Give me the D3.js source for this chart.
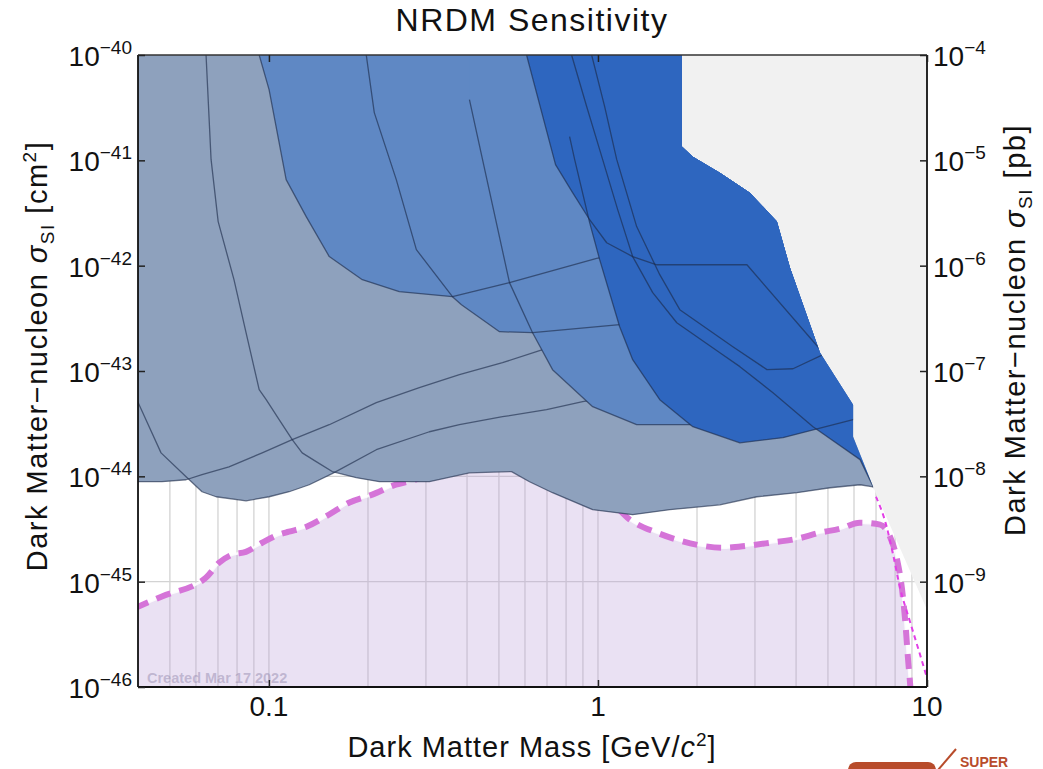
<!DOCTYPE html>
<html><head><meta charset="utf-8">
<script src="https://cdn.jsdelivr.net/npm/d3@7"></script>
<style>
body{margin:0;background:#fff;}
text{font-family:"Liberation Sans",Arial,Helvetica,sans-serif;fill:#111;}
</style>
</head><body>
<svg id="chart" width="1043" height="769"></svg>
<script>
// ---------------- data ----------------
const massDomain = [0.04, 10];
const sigmaDomain = [1e-46, 1e-40];
const massTicks = [0.1, 1, 10];
const massTickLabels = ["0.1", "1", "10"];
const sigmaTicks = [1e-40, 1e-41, 1e-42, 1e-43, 1e-44, 1e-45, 1e-46];
const sigmaExponents = ["−40", "−41", "−42", "−43", "−44", "−45", "−46"];
const pbTicks = [1e-40, 1e-41, 1e-42, 1e-43, 1e-44, 1e-45];
const pbExponents = ["−4", "−5", "−6", "−7", "−8", "−9"];
const gridMasses = [0.04,0.05,0.06,0.07,0.08,0.09,0.1,0.2,0.3,0.4,0.5,0.6,0.7,0.8,0.9,1,2,3,4,5,6,7,8,9,10];

// right edge of the combined exclusion envelope (top -> tip)
const envelopeRightEdge = [[1.798,1e-40],[1.798,1.35e-41],[1.942,1.08e-41],[2.347,7.64e-42],[2.896,4.93e-42],
  [3.499,2.62e-42],[3.834,9.57e-43],[4.731,1.49e-43],[5.962,4.79e-44],[5.962,2.38e-44],[6.859,7.96e-45]];
// projected sensitivity edge below the tip
const sensitivityEdge = [[6.859,7.96e-45],[10,5.42e-46]];

// grey-blue exclusion regions (lower boundaries)
const lowMassEdge = [[0.039,8.89e-45],[0.0473,8.89e-45],[0.056,9.28e-45],[0.0626,1.04e-44],[0.0756,1.23e-44],
  [0.0954,1.67e-44],[0.1177,2.23e-44],[0.1525,3.09e-44],[0.212,5.0e-44],[0.2865,6.94e-44],[0.3793,9.22e-44],
  [0.5128,1.2e-43],[0.6645,1.56e-43],[0.792,1.86e-43]];
const uCurveEdge = [[0.039,6.0e-44],[0.047,1.67e-44],[0.056,9.91e-45],[0.0626,7.14e-45],[0.0691,6.4e-45],
  [0.0852,5.86e-45],[0.1001,6.4e-45],[0.1152,7.14e-45],[0.1326,8.32e-45],[0.1557,1.06e-44],[0.212,1.79e-44],
  [0.3074,2.65e-44],[0.3793,3.09e-44],[0.5128,3.68e-44],[0.6979,4.29e-44],[0.8984,5.11e-44],[1.164,5.9e-44]];
const cresstEdge = [[0.0644,1e-40],[0.0667,1.02e-41],[0.0701,2.62e-42],[0.0783,7.36e-43],[0.0852,2.31e-43],
  [0.0934,6.65e-44],[0.0981,5.34e-44],[0.1074,3.45e-44],[0.1177,2.23e-44],[0.1262,1.67e-44],[0.1392,1.38e-44],
  [0.1557,1.11e-44],[0.1842,9.7e-45],[0.2166,8.89e-45],[0.3074,8.89e-45],[0.4068,1.08e-44],[0.5461,1.11e-44],
  [0.6195,8.89e-45],[0.7277,6.99e-45],[0.9636,4.82e-45],[1.275,4.32e-45],[1.653,4.82e-45],[2.347,5.37e-45],
  [3.042,6.4e-45],[4.025,6.99e-45],[5.074,7.79e-45],[6.261,8.32e-45],[6.859,7.96e-45]];

// medium-blue exclusion regions
const mediumEdgeA = [[0.0934,1e-40],[0.1001,4.69e-41],[0.1128,6.56e-42],[0.1298,2.92e-42],[0.1525,1.22e-42],
  [0.1922,7.36e-43],[0.249,5.66e-43],[0.3612,5.08e-43],[0.5384,6.9e-43],[0.9909,1.17e-42],[1.339,1.42e-42]];
const mediumEdgeB = [[0.1976,1e-40],[0.209,2.84e-41],[0.2438,6.56e-42],[0.2806,1.42e-42],[0.3074,9.78e-43],
  [0.3612,5.08e-43],[0.3847,4.26e-43],[0.5021,2.36e-43],[0.6327,2.31e-43],[1.164,2.75e-43],[1.437,2.94e-43]];
const mediumEdgeC = [[0.4068,3.77e-41],[0.4457,1.02e-41],[0.5384,6.9e-43],[0.6327,2.31e-43],[0.7277,1.03e-43],
  [0.9636,4.58e-44],[1.311,3.09e-44],[1.836,3.09e-44],[2.188,3.09e-44]];

// strong-blue exclusion regions
const strongEdgeA = [[0.6067,1e-40],[0.7431,9.1e-42],[0.8374,4.93e-42],[0.9434,2.73e-42],[1.063,1.65e-42],
  [1.275,1.22e-42],[1.509,1.02e-42],[2.836,1.02e-42],[4.831,1.49e-43],[5.837,7.41e-44]];
const strongEdgeB = [[0.8199,1.68e-41],[0.8493,1.02e-41],[0.9434,2.56e-42],[1.012,1.14e-42],[1.164,2.63e-43],
  [1.275,1.28e-43],[1.541,5.34e-44],[1.942,2.96e-44],[2.7,2.08e-44],[3.65,2.33e-44],[5.962,3.45e-44],[7.204,4.02e-44]];
const strongEdgeC = [[0.8315,1e-40],[0.9239,3.24e-41],[1.033,1.02e-41],[1.148,3.4e-42],[1.275,1.22e-42],
  [1.467,5.54e-43],[1.736,2.87e-43],[2.347,1.49e-43],[2.7,1.1e-43],[3.403,6.22e-44],[4.504,2.96e-44],
  [6.261,1.44e-44],[6.859,7.96e-45],[7.727,3.87e-45]];
const strongEdgeD = [[0.9568,1e-40],[1.048,3.24e-41],[1.14,1.02e-41],[1.311,2.35e-42],[1.541,8.21e-43],
  [1.773,3.82e-43],[2.57,1.7e-43],[3.263,1.03e-43],[3.914,1.05e-43],[4.831,1.43e-43],[5.837,1.98e-43]];

// neutrino fog boundary (thick dashed) and the dotted curve
const fogMass = [0.039,0.0473,0.0643,0.0705,0.0771,0.0851,0.0953,0.107,0.115,0.130,0.152,0.175,0.206,0.243,0.272,
  0.3074,0.4068,0.5461,0.6195,0.7277,0.9636,1.124,1.249,1.51,1.74,2.08,2.39,2.83,3.33,4.02,4.73,5.44,6.25,7.20,7.72,
  8.11,8.40,8.58,8.76,8.88,8.95];
const fogSigma = [5.6e-46,7.23e-46,1.09e-45,1.51e-45,1.80e-45,1.92e-45,2.34e-45,2.79e-45,2.98e-45,3.32e-45,4.32e-45,
  5.62e-45,6.70e-45,8.34e-45,9.10e-45,1.04e-44,1.25e-44,1.28e-44,1.08e-44,8.3e-45,5.75e-45,5.14e-45,3.88e-45,
  2.92e-45,2.50e-45,2.19e-45,2.10e-45,2.19e-45,2.34e-45,2.55e-45,2.92e-45,3.18e-45,3.63e-45,3.48e-45,2.67e-45,
  1.62e-45,8.4e-46,4.36e-46,1.82e-46,1.10e-46,8e-47];
const dottedMass = [7.0,7.51,7.89,8.28,8.88,9.53,10,10.3];
const dottedSigma = [6.4e-45,3.48e-45,1.8e-45,8.75e-46,4.16e-46,2.02e-46,1.22e-46,9e-47];

// ---------------- drawing ----------------
const L = 138, R = 927, T = 55, B = 687;
const svg = d3.select("#chart");
const x = d3.scaleLog().domain(massDomain).range([L, R]);
const y = d3.scaleLog().domain(sigmaDomain).range([B, T]);
const line = d3.line().x(d => x(d[0])).y(d => y(d[1]));
const smooth = d3.line().x(d => x(d[0])).y(d => y(d[1])).curve(d3.curveMonotoneX);

const FAR_HI = 1e-30, FAR_LO = 1e-50, FAR_L = 0.001, FAR_R = 1000;
const defs = svg.append("defs");
defs.append("clipPath").attr("id", "plotClip").append("rect")
  .attr("x", L).attr("y", T).attr("width", R - L).attr("height", B - T);
const envPts = [[FAR_L, FAR_HI], [envelopeRightEdge[0][0], FAR_HI]].concat(envelopeRightEdge)
  .concat([[envelopeRightEdge[envelopeRightEdge.length - 1][0], FAR_LO], [FAR_L, FAR_LO]]);
defs.append("clipPath").attr("id", "envClip").append("path").attr("d", line(envPts) + "Z");
const whitePts = [[FAR_L, FAR_LO], [FAR_L, FAR_HI], [envelopeRightEdge[0][0], FAR_HI]].concat(envelopeRightEdge)
  .concat(sensitivityEdge.slice(1)).concat([[FAR_R, sensitivityEdge[1][1]], [FAR_R, FAR_LO]]);
defs.append("clipPath").attr("id", "whiteClip").append("path").attr("d", line(whitePts) + "Z");

const plot = svg.append("g").attr("clip-path", "url(#plotClip)");
plot.append("rect").attr("x", L).attr("y", T).attr("width", R - L).attr("height", B - T).attr("fill", "#f1f1f1");
plot.append("path").attr("d", line(whitePts) + "Z").attr("fill", "#ffffff");

// grid lines (only visible in the sensitivity region)
const grid = plot.append("g").attr("clip-path", "url(#whiteClip)");
grid.selectAll("line.v").data(gridMasses).join("line")
  .attr("x1", d => x(d)).attr("x2", d => x(d)).attr("y1", T).attr("y2", B)
  .attr("stroke", "#d3d3d3").attr("stroke-width", 1.3);
grid.selectAll("line.h").data(sigmaTicks).join("line")
  .attr("x1", L).attr("x2", R).attr("y1", d => y(d)).attr("y2", d => y(d))
  .attr("stroke", "#d3d3d3").attr("stroke-width", 1.3);

// neutrino fog
const fogPts = fogMass.map((m, i) => [m, fogSigma[i]]);
const fogG = plot.append("g").attr("clip-path", "url(#whiteClip)");
fogG.append("path").attr("d", smooth(fogPts) + "L" + x(fogMass[fogMass.length-1]) + "," + (B + 50) + "L" + x(fogMass[0]) + "," + (B + 50) + "Z")
  .attr("fill", "rgba(185,155,215,0.30)");
fogG.append("path").attr("d", smooth(fogPts)).attr("fill", "none")
  .attr("stroke", "rgba(255,255,255,0.85)").attr("stroke-width", 2.5);
fogG.append("path").attr("d", smooth(fogPts)).attr("fill", "none")
  .attr("stroke", "#d574d8").attr("stroke-width", 6).attr("stroke-dasharray", "15,9");
const dottedPts = dottedMass.map((m, i) => [m, dottedSigma[i]]);
fogG.append("path").attr("d", smooth(dottedPts)).attr("fill", "none")
  .attr("stroke", "#e23fe6").attr("stroke-width", 2).attr("stroke-dasharray", "5,4");

// watermark
plot.append("text").attr("x", 147).attr("y", 683).text("Created Mar 17 2022")
  .style("font-size", "14.5px").style("font-weight", "bold").style("fill", "rgba(150,140,175,0.5)");

// exclusion regions
const regionFill = pts => line(pts.concat([[FAR_R, FAR_HI], [pts[0][0], FAR_HI]])) + "Z";
const edgeStroke = "rgba(28,42,72,0.62)";
function drawGroup(regions, color) {
  const g = plot.append("g").attr("clip-path", "url(#envClip)");
  g.selectAll("path.fill").data(regions).join("path").attr("class", "fill")
    .attr("d", regionFill).attr("fill", color).attr("stroke", "none");
  g.selectAll("path.edge").data(regions).join("path").attr("class", "edge")
    .attr("d", d => line(d)).attr("fill", "none").attr("stroke", edgeStroke)
    .attr("stroke-width", 1.3).attr("stroke-linejoin", "round");
}
drawGroup([lowMassEdge, uCurveEdge, cresstEdge], "#8ea1bd");
drawGroup([mediumEdgeA, mediumEdgeB, mediumEdgeC], "#5f88c4");
drawGroup([strongEdgeA, strongEdgeB, strongEdgeC, strongEdgeD], "#2e66bf");

// frame
svg.append("line").attr("x1", L).attr("x2", R).attr("y1", T).attr("y2", T).attr("stroke", "#333").attr("stroke-width", 1.5);
svg.append("line").attr("x1", L).attr("x2", R).attr("y1", B).attr("y2", B).attr("stroke", "#111").attr("stroke-width", 1.8);
svg.append("line").attr("x1", L).attr("x2", L).attr("y1", T).attr("y2", B).attr("stroke", "#111").attr("stroke-width", 1.8);
svg.append("line").attr("x1", R).attr("x2", R).attr("y1", T).attr("y2", B).attr("stroke", "#111").attr("stroke-width", 1.8);

// axes ticks (inward)
const axL = svg.append("g").attr("transform", `translate(${L},0)`)
  .call(d3.axisLeft(y).tickValues(sigmaTicks).tickSize(-7).tickFormat(() => ""));
const axR = svg.append("g").attr("transform", `translate(${R},0)`)
  .call(d3.axisRight(y).tickValues(pbTicks).tickSize(-7).tickFormat(() => ""));
const axB = svg.append("g").attr("transform", `translate(0,${B})`)
  .call(d3.axisBottom(x).tickValues(massTicks).tickSize(-7).tickFormat(() => ""));
const axT = svg.append("g").attr("transform", `translate(0,${T})`)
  .call(d3.axisTop(x).tickValues(massTicks).tickSize(-7).tickFormat(() => ""));
[axL, axR, axB, axT].forEach(a => { a.select(".domain").remove(); a.selectAll(".tick line").attr("stroke", "#222").attr("stroke-width", 1.5); });

// tick labels
const tickFont = 28, supFont = 19;
svg.append("g").selectAll("text").data(sigmaTicks).join("text")
  .attr("x", L - 6).attr("y", d => y(d) + 11).attr("text-anchor", "end")
  .style("font-size", tickFont + "px")
  .each(function(d, i) {
    const t = d3.select(this);
    t.append("tspan").text("10");
    t.append("tspan").attr("dy", -12).style("font-size", supFont + "px").text(sigmaExponents[i]);
  });
svg.append("g").selectAll("text").data(pbTicks).join("text")
  .attr("x", R + 6).attr("y", d => y(d) + 11).attr("text-anchor", "start")
  .style("font-size", tickFont + "px")
  .each(function(d, i) {
    const t = d3.select(this);
    t.append("tspan").text("10");
    t.append("tspan").attr("dy", -12).style("font-size", supFont + "px").text(pbExponents[i]);
  });
svg.append("g").selectAll("text").data(massTicks).join("text")
  .attr("x", d => x(d)).attr("y", B + 29).attr("text-anchor", "middle")
  .style("font-size", tickFont + "px").text((d, i) => massTickLabels[i]);

// titles
svg.append("text").attr("x", 532).attr("y", 31).attr("text-anchor", "middle")
  .style("font-size", "32px").style("letter-spacing", "1.5px").text("NRDM Sensitivity");
const xt = svg.append("text").attr("x", 532).attr("y", 757).attr("text-anchor", "middle")
  .style("font-size", "29px").style("letter-spacing", "1px");
xt.append("tspan").text("Dark Matter Mass [GeV/");
xt.append("tspan").style("font-style", "italic").text("c");
xt.append("tspan").attr("dy", -11).style("font-size", "19px").text("2");
xt.append("tspan").attr("dy", 11).text("]");

function yTitle(px, py, unit, sup) {
  const t = svg.append("text").attr("transform", `translate(${px},${py}) rotate(-90)`)
    .attr("text-anchor", "middle").style("font-size", "29px").style("letter-spacing", "1.5px");
  t.append("tspan").text("Dark Matter−nucleon ");
  t.append("tspan").style("font-style", "italic").text("σ");
  t.append("tspan").attr("dy", 7).style("font-size", "19px").text("SI");
  t.append("tspan").attr("dy", -7).text(" [" + unit);
  if (sup) {
    t.append("tspan").attr("dy", -11).style("font-size", "19px").text(sup);
    t.append("tspan").attr("dy", 11).text("]");
  } else {
    t.append("tspan").text("]");
  }
}
yTitle(47, 356, "cm", "2");
yTitle(1025, 330, "pb", null);

// partial logo at bottom-right
svg.append("rect").attr("x", 848).attr("y", 762).attr("width", 88).attr("height", 24).attr("rx", 8).attr("fill", "#b84c2b");
svg.append("line").attr("x1", 938).attr("y1", 770).attr("x2", 956).attr("y2", 749).attr("stroke", "#b84c2b").attr("stroke-width", 2);
svg.append("text").attr("x", 960).attr("y", 767).style("font-size", "14px").style("font-weight", "bold")
  .style("fill", "#b84c2b").text("SUPER");
</script>
</body></html>
